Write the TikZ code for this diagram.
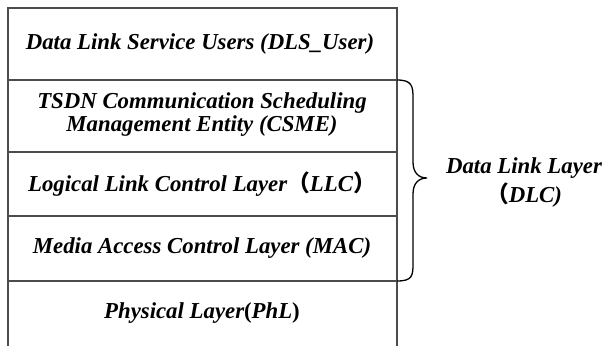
\documentclass[tikz,border=0pt]{standalone}
\usepackage{fontspec}
\setmainfont{Liberation Serif}
\newfontfamily\cjk{Noto Sans CJK SC}
\begin{document}
\begin{tikzpicture}[x=1pt,y=-1pt,
  layer/.style={font=\fontsize{22.8}{23}\selectfont\bfseries\itshape, align=center, inner sep=0pt},
  frame/.style={draw=black!70, line width=1.2pt}]
\useasboundingbox (0,0) rectangle (604,345);
\coordinate (tl) at (8,8);
\coordinate (tr) at (397,8);
\coordinate (bl) at (8,346);
\coordinate (br) at (397,346);
\draw[frame] (bl) -- (tl) -- (tr) -- (br);
\foreach \y/\n in {80/a,152/b,216/c,281/d}{
  \coordinate (l\n) at (8,\y);
  \coordinate (r\n) at (397,\y);
  \draw[frame] (l\n) -- (r\n);
}
\node[layer] (n1) at (200,44) {Data Link Service Users (DLS\_User)};
\node[layer] (n2) at (202,115) {TSDN Communication Scheduling\\Management Entity (CSME)};
\node[layer] (n3) at (202,184) {Logical Link Control Layer{\cjk （}LLC{\cjk ）}};
\node[layer] (n4) at (202,248.5) {Media Access Control Layer (MAC)};
\node[layer] (n5) at (202,313) {Physical Layer{\upshape(}PhL{\upshape)}};
% brace
\draw[black, line width=1.3pt]
  (ra) .. controls (412,80) and (413,86) .. (413,98)
  -- (413,162) .. controls (413,172) and (418,178) .. (427,178)
  .. controls (418,178) and (413,184) .. (413,194)
  -- (413,264) .. controls (413,276) and (412,281) .. (rd);
\node[layer, font=\fontsize{22.8}{29}\selectfont\bfseries\itshape] (dlc) at (524,183) {Data Link Layer\\{\cjk （}DLC)};
\end{tikzpicture}
\end{document}
